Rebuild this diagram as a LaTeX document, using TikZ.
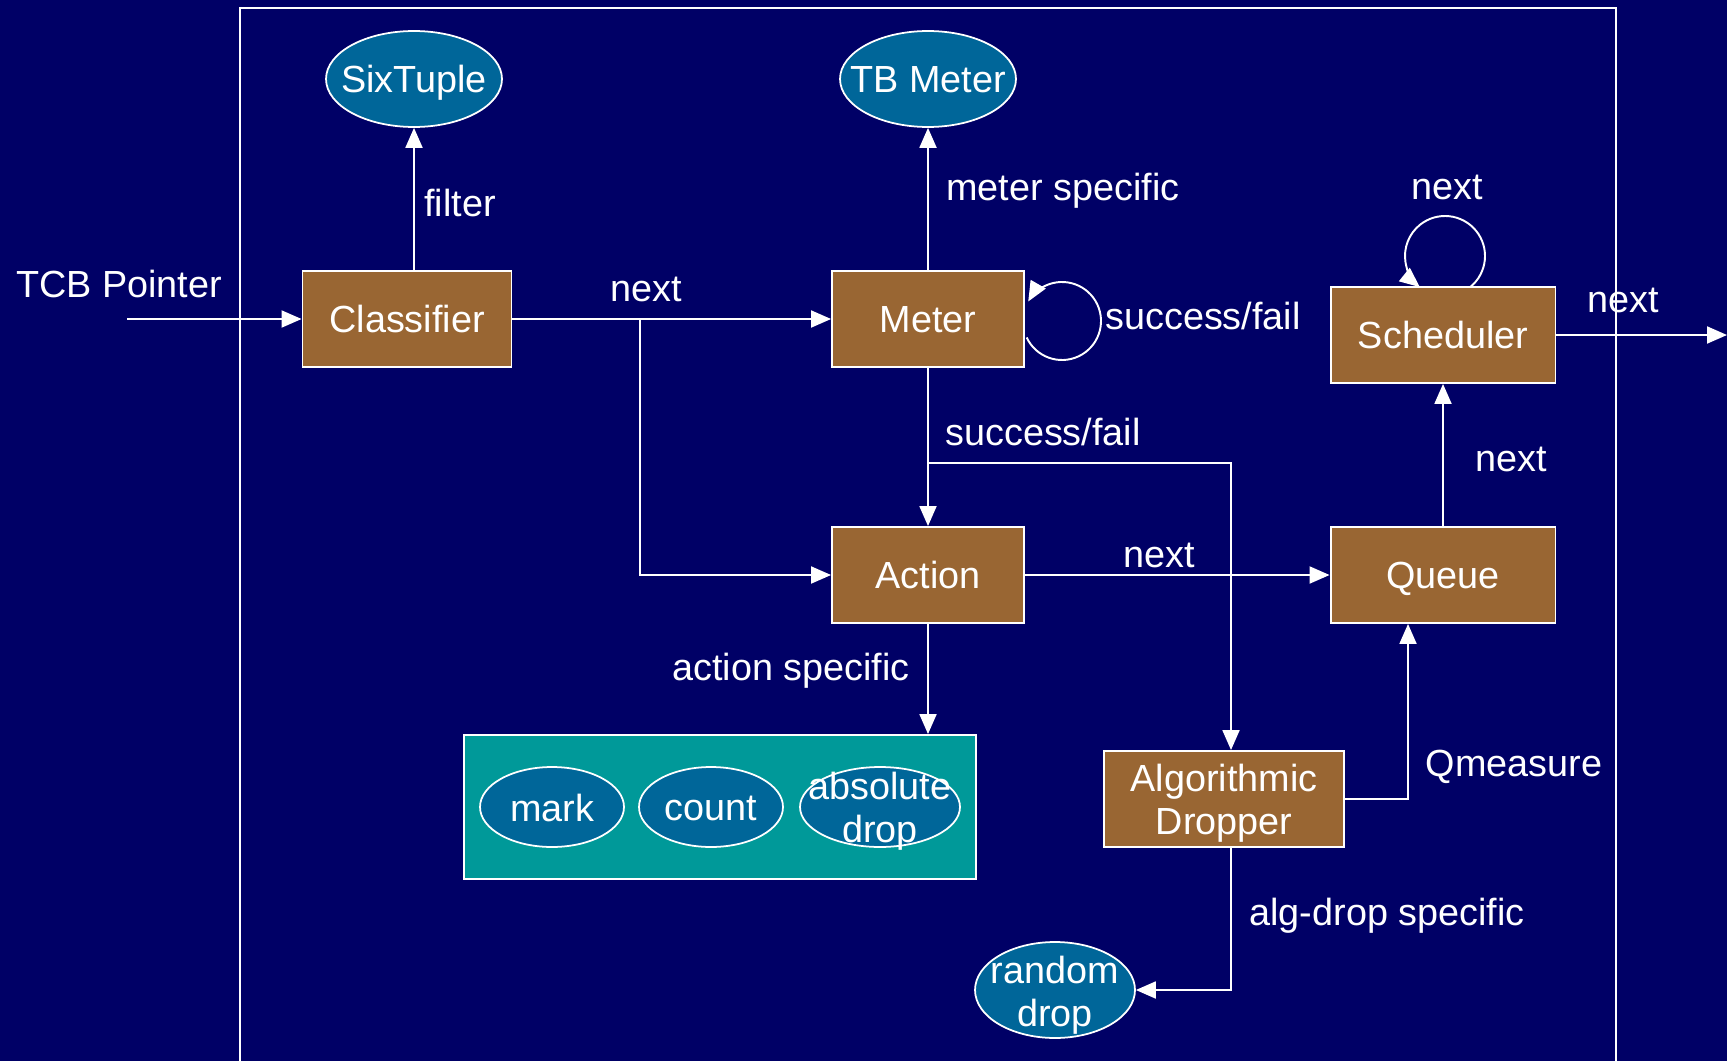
\documentclass[tikz,border=0pt]{standalone}
\usepackage{fontspec}
\setmainfont{Liberation Sans}
\usetikzlibrary{arrows.meta,shapes.geometric}
\definecolor{navy}{RGB}{0,0,102}
\definecolor{brownbox}{RGB}{153,102,51}
\definecolor{ovalblue}{RGB}{0,102,153}
\definecolor{tealbox}{RGB}{0,153,153}
\begin{document}
\begin{tikzpicture}[x=0.02cm,y=-0.02cm,
  font=\fontsize{21.5}{24.5}\selectfont,
  every node/.style={text=white},
  wire/.style={draw=white,line width=1.1pt},
  arr/.style={wire,-{Triangle[length=0.4cm,width=0.34cm]}},
  block/.style={draw=white,line width=1.1pt,fill=brownbox,minimum height=1.92cm,inner sep=0pt,align=center},
  oneline/.style={text height=15.4pt,text depth=0pt},
  oval/.style={ellipse,draw=white,line width=1pt,fill=ovalblue,inner sep=0pt},
  lbl/.style={inner sep=0pt,align=center}]
% page and background
\fill[navy] (0,0) rectangle (1727,1061);
\useasboundingbox (0,0) rectangle (1727,1061);
% open frame
\draw[wire] (240,1075) -- (240,8) -- (1616,8) -- (1616,1075);

% blocks
\node[block,oneline,minimum width=4.18cm] (cls) at (407,319) {Classifier};
\node[block,oneline,minimum width=3.84cm] (met) at (928,319) {Meter};
\node[block,oneline,minimum width=3.84cm] (act) at (928,575) {Action};
\node[block,oneline,minimum width=4.5cm] (sch) at (1443,335) {Scheduler};
\node[block,oneline,minimum width=4.5cm] (que) at (1443,575) {Queue};
\node[block,minimum width=4.8cm] (ad) at (1224,799) {};
\node[lbl] (adt) at (1224,803) {Algorithmic\\Dropper};

% ovals
\node[oval,minimum width=3.52cm,minimum height=1.92cm] (six) at (414,79) {};
\node[lbl] (sixt) at (414,83) {SixTuple};
\node[oval,minimum width=3.52cm,minimum height=1.92cm] (tbm) at (928,79) {};
\node[lbl] (tbmt) at (928,80) {TB Meter};

% action options
\node[draw=white,line width=1.1pt,fill=tealbox,minimum width=10.24cm,minimum height=2.88cm,inner sep=0pt] (opt) at (720,807) {};
\node[oval,minimum width=2.88cm,minimum height=1.6cm] (mark) at (552,807) {};
\node[lbl] (markt) at (552,808) {mark};
\node[oval,minimum width=2.88cm,minimum height=1.6cm] (count) at (711,807) {};
\node[lbl] (countt) at (711,808) {count};
\node[oval,minimum width=3.2cm,minimum height=1.6cm] (absd) at (880,807) {};
\node[lbl] (absdt) at (880,811) {absolute\\drop};

% random drop
\node[oval,minimum width=3.2cm,minimum height=1.92cm] (rd) at (1055,990) {};
\node[lbl] (rdt) at (1055,995) {random\\drop};

% connectors
\coordinate (tcb) at (127,319);
\coordinate (split1) at (640,319);
\coordinate (split2) at (928,463);
\coordinate (outr) at (1727,335);

\draw[arr] (tcb) -- (cls.west);
\draw[arr] (six.south |- cls.north) -- (six.south);
\draw[arr] (cls.east) -- (met.west);
\draw[arr] (split1) |- (act.west);
\draw[arr] (met.north) -- (tbm.south);
\draw[arr] (met.south) -- (act.north);
\draw[arr] (split2) -| ([xshift=0.14cm]ad.north);
\draw[arr] (act.east) -- (que.west);
\draw[arr] (que.north) -- (sch.south);
\draw[arr] (sch.east) -- (outr);
\draw[arr] (act.south) -- (act.south |- opt.north);
\draw[arr] (ad.east) -| ([xshift=-0.7cm]que.south);
\draw[arr] ([xshift=0.14cm]ad.south) |- (rd.east);

% self loops
\draw[arr] (1062,321) ++(155:39) arc[start angle=155,end angle=-150,radius=39];
\draw[arr] (1445,256) ++(51:40) arc[start angle=51,end angle=-231,radius=40];

% labels
\node[lbl] (l-tcb) at (119,284) {TCB Pointer};
\node[lbl] (l-filter) at (460,203) {filter};
\node[lbl] (l-next1) at (646,289) {next};
\node[lbl] (l-meter) at (1063,191) {meter specific};
\node[lbl] (l-sf1) at (1203,316) {success/fail};
\node[lbl] (l-sf2) at (1043,432) {success/fail};
\node[lbl] (l-next2) at (1447,187) {next};
\node[lbl] (l-next3) at (1623,300) {next};
\node[lbl] (l-next4) at (1511,459) {next};
\node[lbl] (l-next5) at (1159,555) {next};
\node[lbl,anchor=east] (l-act) at (910,671) {action specific};
\node[lbl] (l-qm) at (1514,767) {Qmeasure};
\node[lbl] (l-alg) at (1387,916) {alg-drop specific};
\end{tikzpicture}
\end{document}
